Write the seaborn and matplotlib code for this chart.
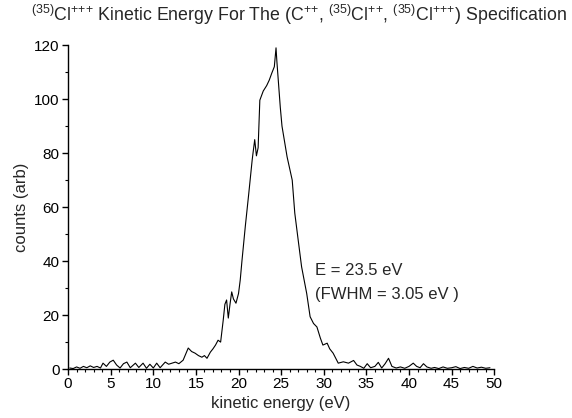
import matplotlib
matplotlib.use("Agg")
import matplotlib.pyplot as plt
import seaborn as sns
import pandas as pd
from matplotlib.ticker import MultipleLocator

sns.set_theme(style="ticks")
plt.rcParams['font.family'] = ['Liberation Sans', 'DejaVu Sans']
plt.rcParams['mathtext.fontset'] = 'custom'
plt.rcParams['mathtext.rm'] = 'Liberation Sans'

energy = [0.2, 0.6, 1.0, 1.4, 1.8, 2.2, 2.6, 3.0, 3.4, 3.8, 4.1, 4.5, 4.9, 5.3, 5.7, 6.1, 6.5, 6.9,
          7.3, 7.9, 8.3, 8.8, 9.2, 9.6, 10.0, 10.4, 10.8, 11.4, 11.8, 12.2, 12.6, 13.0, 13.5, 14.1,
          14.5, 14.9, 15.3, 15.7, 16.0, 16.3, 16.7, 17.0, 17.3, 17.6, 17.9, 18.2, 18.4, 18.6, 18.8,
          19.0, 19.2, 19.4, 19.7, 20.0, 20.2, 20.4, 20.8, 21.2, 21.6, 21.7, 21.9, 22.1, 22.3, 22.5,
          22.9, 23.3, 23.6, 23.9, 24.2, 24.4, 24.5, 24.9, 25.1, 25.7, 26.3, 26.6, 27.0, 27.4, 28.0,
          28.4, 28.8, 29.2, 29.6, 29.9, 30.4, 30.7, 31.1, 31.7, 32.3, 32.9, 33.5, 33.9, 34.3, 34.7,
          35.1, 35.5, 36.0, 36.4, 36.8, 37.2, 37.6, 38.0, 38.5, 39.0, 39.5, 40.0, 40.5, 40.9, 41.3,
          41.7, 42.1, 42.6, 43.0, 43.5, 44.0, 44.5, 45.0, 45.5, 46.0, 46.5, 47.0, 47.5, 48.0, 48.5,
          49.0, 49.5]
counts = [0.4, 0.2, 0.8, 0.3, 1.0, 0.5, 1.2, 0.6, 1.0, 0.4, 2.2, 1.0, 2.6, 3.3, 1.5, 0.4, 2.0, 2.6,
          0.5, 2.2, 0.6, 2.2, 0.3, 1.8, 0.4, 2.2, 0.5, 2.6, 1.8, 2.2, 2.6, 2.0, 3.3, 7.8,
          6.5, 5.9, 5.0, 4.4, 5.0, 4.0, 6.3, 7.5, 8.9, 10.7, 10.0, 18.0, 24.0, 25.6, 18.9,
          24.0, 28.6, 26.0, 24.4, 28.0, 33.0, 40.0, 53.0, 65.0, 77.4, 80.0, 85.0, 79.0, 82.0, 99.6,
          103.0, 105.0, 107.0, 109.6, 112.0, 119.0, 114.0, 97.0, 90.0, 78.6, 70.0, 57.8, 47.8, 37.9, 28.0,
          19.4, 16.9, 15.6, 11.5, 8.9, 9.6, 7.5, 5.9, 2.2, 2.7, 2.2, 3.2, 1.5, 1.0, 0.3,
          2.0, 0.5, 1.0, 2.5, 0.4, 2.0, 4.0, 1.0, 0.4, 0.8, 0.3, 1.0, 2.2, 1.0, 0.5,
          2.0, 0.8, 0.3, 0.6, 0.2, 0.8, 0.3, 0.5, 0.9, 0.2, 0.6, 0.3, 1.0, 0.4, 0.7,
          0.3, 0.5]

df = pd.DataFrame({"energy": energy, "counts": counts})

fig = plt.figure(figsize=(5.72, 4.18), dpi=100)
ax = fig.add_axes([0.119, 0.117, 0.745, 0.775])
sns.lineplot(data=df, x="energy", y="counts", ax=ax, color="black", linewidth=0.8)

ax.set_xlim(0, 50)
ax.set_ylim(0, 120)
ax.xaxis.set_major_locator(MultipleLocator(5))
ax.xaxis.set_minor_locator(MultipleLocator(1))
ax.yaxis.set_major_locator(MultipleLocator(20))
ax.yaxis.set_minor_locator(MultipleLocator(10))
ax.tick_params(which="major", length=4, width=1, labelsize=11, colors="black", pad=2)
ax.tick_params(which="minor", length=2.5, width=0.8, colors="black")
for s in ["top", "right"]:
    ax.spines[s].set_visible(False)
for s in ["left", "bottom"]:
    ax.spines[s].set_linewidth(1.0)
    ax.spines[s].set_color("black")

ax.set_xlabel("kinetic energy (eV)", fontsize=12, labelpad=3)
ax.set_ylabel("counts (arb)", fontsize=12, labelpad=4)

ax.text(29.0, 36.5, "E = 23.5 eV", fontsize=12, va="center", ha="left")
ax.text(29.0, 27.5, "(FWHM = 3.05 eV )", fontsize=12, va="center", ha="left")

title = (r"$^{(35)}$Cl$^{{+}{+}{+}}$ Kinetic Energy For The (C$^{{+}{+}}$, "
         r"$^{(35)}$Cl$^{{+}{+}}$, $^{(35)}$Cl$^{{+}{+}{+}}$) Specification")
fig.text(0.522, 0.965, title, fontsize=12.8, ha="center", va="center")

fig.savefig("out.png", dpi=100)
